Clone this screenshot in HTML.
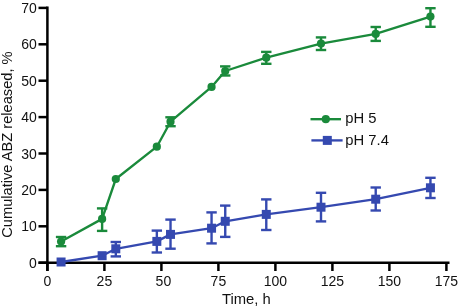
<!DOCTYPE html>
<html><head><meta charset="utf-8"><style>
html,body{margin:0;padding:0;background:#fff;width:458px;height:308px;overflow:hidden}
svg{display:block;will-change:transform}
</style></head><body>
<svg width="458" height="308" viewBox="0 0 458 308">
<g stroke="#000" stroke-width="2.5" fill="none">
<line x1="47.4" y1="6.6" x2="47.4" y2="271"/>
<line x1="38.5" y1="262.7" x2="449.5" y2="262.7"/>
<line x1="38.5" y1="262.70" x2="47.4" y2="262.70"/>
<line x1="38.5" y1="226.30" x2="47.4" y2="226.30"/>
<line x1="38.5" y1="189.90" x2="47.4" y2="189.90"/>
<line x1="38.5" y1="153.50" x2="47.4" y2="153.50"/>
<line x1="38.5" y1="117.10" x2="47.4" y2="117.10"/>
<line x1="38.5" y1="80.70" x2="47.4" y2="80.70"/>
<line x1="38.5" y1="44.30" x2="47.4" y2="44.30"/>
<line x1="38.5" y1="7.90" x2="47.4" y2="7.90"/>
<line x1="47.40" y1="262.7" x2="47.40" y2="271"/>
<line x1="104.40" y1="262.7" x2="104.40" y2="271"/>
<line x1="161.40" y1="262.7" x2="161.40" y2="271"/>
<line x1="218.40" y1="262.7" x2="218.40" y2="271"/>
<line x1="275.40" y1="262.7" x2="275.40" y2="271"/>
<line x1="332.40" y1="262.7" x2="332.40" y2="271"/>
<line x1="389.40" y1="262.7" x2="389.40" y2="271"/>
<line x1="446.40" y1="262.7" x2="446.40" y2="271"/>
</g>
<g font-family="Liberation Sans" font-size="14.0" fill="#111">
<text x="36.8" y="267.70" text-anchor="end">0</text>
<text x="36.8" y="231.30" text-anchor="end">10</text>
<text x="36.8" y="194.90" text-anchor="end">20</text>
<text x="36.8" y="158.50" text-anchor="end">30</text>
<text x="36.8" y="122.10" text-anchor="end">40</text>
<text x="36.8" y="85.70" text-anchor="end">50</text>
<text x="36.8" y="49.30" text-anchor="end">60</text>
<text x="36.8" y="12.90" text-anchor="end">70</text>
<text x="47.40" y="285.8" text-anchor="middle">0</text>
<text x="104.40" y="285.8" text-anchor="middle">25</text>
<text x="163.40" y="285.8" text-anchor="middle">50</text>
<text x="218.40" y="285.8" text-anchor="middle">75</text>
<text x="275.40" y="285.8" text-anchor="middle">100</text>
<text x="332.40" y="285.8" text-anchor="middle">125</text>
<text x="389.40" y="285.8" text-anchor="middle">150</text>
<text x="446.40" y="285.8" text-anchor="middle">175</text>
</g>
<text x="246.3" y="304" font-family="Liberation Sans" font-size="14.8" text-anchor="middle" fill="#111">Time, h</text>
<text transform="translate(11.8,144.6) rotate(-90)" x="0" y="0" font-family="Liberation Sans" font-size="14.65" text-anchor="middle" fill="#111">Cumulative ABZ released, %</text>
<polyline points="61.08,262.00 102.12,255.70 115.80,248.80 156.84,241.40 170.52,234.40 211.56,228.20 225.24,221.30 266.28,214.40 321.00,207.20 375.72,199.20 430.44,187.80" fill="none" stroke="#3549b0" stroke-width="2.35" stroke-linejoin="round"/>
<g stroke="#3549b0" stroke-width="2.4" fill="none">
<line x1="115.80" y1="242.00" x2="115.80" y2="256.40"/>
<line x1="110.60" y1="242.00" x2="121.00" y2="242.00"/>
<line x1="110.60" y1="256.40" x2="121.00" y2="256.40"/>
<line x1="156.84" y1="230.60" x2="156.84" y2="252.50"/>
<line x1="151.64" y1="230.60" x2="162.04" y2="230.60"/>
<line x1="151.64" y1="252.50" x2="162.04" y2="252.50"/>
<line x1="170.52" y1="219.60" x2="170.52" y2="248.70"/>
<line x1="165.32" y1="219.60" x2="175.72" y2="219.60"/>
<line x1="165.32" y1="248.70" x2="175.72" y2="248.70"/>
<line x1="211.56" y1="212.40" x2="211.56" y2="243.40"/>
<line x1="206.36" y1="212.40" x2="216.76" y2="212.40"/>
<line x1="206.36" y1="243.40" x2="216.76" y2="243.40"/>
<line x1="225.24" y1="205.60" x2="225.24" y2="236.90"/>
<line x1="220.04" y1="205.60" x2="230.44" y2="205.60"/>
<line x1="220.04" y1="236.90" x2="230.44" y2="236.90"/>
<line x1="266.28" y1="199.40" x2="266.28" y2="230.00"/>
<line x1="261.08" y1="199.40" x2="271.48" y2="199.40"/>
<line x1="261.08" y1="230.00" x2="271.48" y2="230.00"/>
<line x1="321.00" y1="192.80" x2="321.00" y2="221.40"/>
<line x1="315.80" y1="192.80" x2="326.20" y2="192.80"/>
<line x1="315.80" y1="221.40" x2="326.20" y2="221.40"/>
<line x1="375.72" y1="187.50" x2="375.72" y2="210.50"/>
<line x1="370.52" y1="187.50" x2="380.92" y2="187.50"/>
<line x1="370.52" y1="210.50" x2="380.92" y2="210.50"/>
<line x1="430.44" y1="177.80" x2="430.44" y2="198.00"/>
<line x1="425.24" y1="177.80" x2="435.64" y2="177.80"/>
<line x1="425.24" y1="198.00" x2="435.64" y2="198.00"/>
</g>
<g fill="#3549b0">
<rect x="56.58" y="257.50" width="9.0" height="9.0"/>
<rect x="97.62" y="251.20" width="9.0" height="9.0"/>
<rect x="111.30" y="244.30" width="9.0" height="9.0"/>
<rect x="152.34" y="236.90" width="9.0" height="9.0"/>
<rect x="166.02" y="229.90" width="9.0" height="9.0"/>
<rect x="207.06" y="223.70" width="9.0" height="9.0"/>
<rect x="220.74" y="216.80" width="9.0" height="9.0"/>
<rect x="261.78" y="209.90" width="9.0" height="9.0"/>
<rect x="316.50" y="202.70" width="9.0" height="9.0"/>
<rect x="371.22" y="194.70" width="9.0" height="9.0"/>
<rect x="425.94" y="183.30" width="9.0" height="9.0"/>
</g>
<polyline points="61.08,241.50 102.12,218.90 115.80,179.00 156.84,146.70 170.52,121.70 211.56,86.90 225.24,71.00 266.28,57.70 321.00,43.60 375.72,33.90 430.44,16.60" fill="none" stroke="#1a8a3b" stroke-width="2.35" stroke-linejoin="round"/>
<g stroke="#1a8a3b" stroke-width="2.4" fill="none">
<line x1="61.08" y1="237.00" x2="61.08" y2="246.20"/>
<line x1="55.88" y1="237.00" x2="66.28" y2="237.00"/>
<line x1="55.88" y1="246.20" x2="66.28" y2="246.20"/>
<line x1="102.12" y1="208.40" x2="102.12" y2="230.90"/>
<line x1="96.92" y1="208.40" x2="107.32" y2="208.40"/>
<line x1="96.92" y1="230.90" x2="107.32" y2="230.90"/>
<line x1="170.52" y1="117.30" x2="170.52" y2="126.20"/>
<line x1="165.32" y1="117.30" x2="175.72" y2="117.30"/>
<line x1="165.32" y1="126.20" x2="175.72" y2="126.20"/>
<line x1="225.24" y1="66.40" x2="225.24" y2="75.50"/>
<line x1="220.04" y1="66.40" x2="230.44" y2="66.40"/>
<line x1="220.04" y1="75.50" x2="230.44" y2="75.50"/>
<line x1="266.28" y1="51.90" x2="266.28" y2="63.80"/>
<line x1="261.08" y1="51.90" x2="271.48" y2="51.90"/>
<line x1="261.08" y1="63.80" x2="271.48" y2="63.80"/>
<line x1="321.00" y1="37.40" x2="321.00" y2="50.00"/>
<line x1="315.80" y1="37.40" x2="326.20" y2="37.40"/>
<line x1="315.80" y1="50.00" x2="326.20" y2="50.00"/>
<line x1="375.72" y1="27.00" x2="375.72" y2="40.90"/>
<line x1="370.52" y1="27.00" x2="380.92" y2="27.00"/>
<line x1="370.52" y1="40.90" x2="380.92" y2="40.90"/>
<line x1="430.44" y1="8.20" x2="430.44" y2="26.80"/>
<line x1="425.24" y1="8.20" x2="435.64" y2="8.20"/>
<line x1="425.24" y1="26.80" x2="435.64" y2="26.80"/>
</g>
<g fill="#1a8a3b">
<circle cx="61.08" cy="241.50" r="4.1"/>
<circle cx="102.12" cy="218.90" r="4.1"/>
<circle cx="115.80" cy="179.00" r="4.1"/>
<circle cx="156.84" cy="146.70" r="4.1"/>
<circle cx="170.52" cy="121.70" r="4.1"/>
<circle cx="211.56" cy="86.90" r="4.1"/>
<circle cx="225.24" cy="71.00" r="4.1"/>
<circle cx="266.28" cy="57.70" r="4.1"/>
<circle cx="321.00" cy="43.60" r="4.1"/>
<circle cx="375.72" cy="33.90" r="4.1"/>
<circle cx="430.44" cy="16.60" r="4.1"/>
</g>
<line x1="310.5" y1="119.2" x2="341" y2="119.2" stroke="#1a8a3b" stroke-width="2.35"/>
<circle cx="325.8" cy="119.2" r="4.1" fill="#1a8a3b"/>
<line x1="311.4" y1="140.4" x2="342.6" y2="140.4" stroke="#3549b0" stroke-width="2.35"/>
<rect x="322.8" y="135.9" width="9.0" height="9.0" fill="#3549b0"/>
<g font-family="Liberation Sans" font-size="14.8" fill="#111">
<text x="345.3" y="123.0">pH 5</text>
<text x="345.3" y="144.9">pH 7.4</text>
</g>
</svg>
</body></html>
